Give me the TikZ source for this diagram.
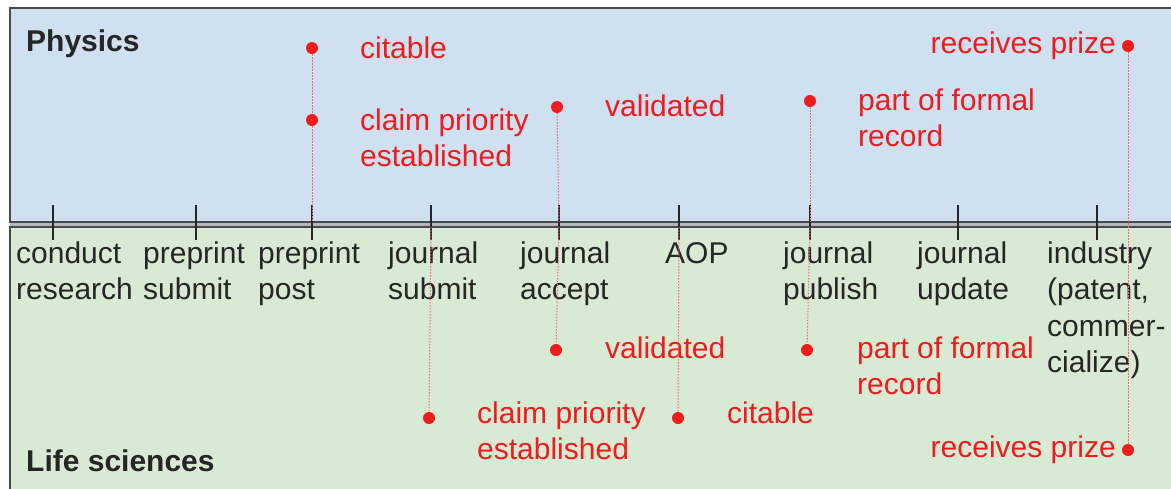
\documentclass[tikz,border=0pt]{standalone}
\usepackage{fontspec}
\setmainfont{Liberation Sans}
\definecolor{physbg}{HTML}{CFE0F1}
\definecolor{lifebg}{HTML}{D9EAD4}
\definecolor{accent}{HTML}{EE1C1C}
\definecolor{ink}{HTML}{262626}
\definecolor{edgegray}{HTML}{4A4A4A}
\definecolor{gapgray}{HTML}{B4B8BC}

\begin{document}
\begin{tikzpicture}[x=1pt,y=-1pt,
  % multi-line nodes sit on the baseline of their last line
  stage/.style={anchor=base west, inner sep=0pt, align=left, text=ink,
                font=\fontsize{30}{36.5}\selectfont},
  note/.style={stage, text=accent},
  notel/.style={note, anchor=base east, align=right},
  lanetitle/.style={stage, font=\fontsize{30}{36.5}\selectfont\bfseries},
  dot/.style={circle, fill=accent, inner sep=0pt, minimum size=12pt},
  tickmark/.style={draw=ink, line width=1.5pt},
  trace/.style={draw=accent!65, line width=1pt, dash pattern=on 1.5pt off 1.5pt},
  lane/.style={draw=edgegray, line width=1.6pt}]
\useasboundingbox (0,0) rectangle (1171,488);
\clip (0,0) rectangle (1171,488);
\fill[white] (0,0) rectangle (1171,488);

% the two lanes
\fill[gapgray] (10,222) rectangle (1190,227);
\path[lane, fill=physbg] (10,8) rectangle (1190,222);
\path[lane, fill=lifebg] (10,227) rectangle (1190,500);

\node[lanetitle] (phys) at (26,51) {Physics};
\node[lanetitle] (life) at (26,471) {Life sciences};

% timeline ticks
\foreach \n/\x in {t1/53, t2/196, t3/312, t4/431, t5/559, t6/679, t7/810, t8/958, t9/1097} {
  \coordinate (\n-top) at (\x,205);
  \coordinate (\n-bot) at (\x,240);
  \coordinate (\n-up) at (\x,222);
  \coordinate (\n-dn) at (\x,227);
  \draw[tickmark] (\n-top) -- (\n-bot);
}

% stage labels
\node[stage] (s1) at (16,299.5) {conduct\\research};
\node[stage] (s2) at (143,299.5) {preprint\\submit};
\node[stage] (s3) at (258,299.5) {preprint\\post};
\node[stage] (s4) at (388,299.5) {journal\\submit};
\node[stage] (s5) at (520,299.5) {journal\\accept};
\node[stage] (s6) at (665,263) {AOP};
\node[stage] (s7) at (783,299.5) {journal\\publish};
\node[stage] (s8) at (917,299.5) {journal\\update};
\node[stage] (s9) at (1047,372.5) {industry\\(patent,\\commer-\\cialize)};

% physics milestones
\node[dot] (pcite) at (312,48) {};
\node[dot] (pclaim) at (312,120) {};
\node[dot] (pvalid) at (557,107) {};
\node[dot] (precord) at (810,101) {};
\node[dot] (pprize) at (1128,46) {};
\node[note] (pcite-t) at (360,58) {citable};
\node[note] (pclaim-t) at (360,166.5) {claim priority\\established};
\node[note] (pvalid-t) at (605,116) {validated};
\node[note] (precord-t) at (858,146.5) {part of formal\\record};
\node[notel] (pprize-t) at (1116,53) {receives prize};

% life-science milestones
\node[dot] (lclaim) at (429,418) {};
\node[dot] (lvalid) at (556,350) {};
\node[dot] (lcite) at (678,418) {};
\node[dot] (lrecord) at (807,350) {};
\node[dot] (lprize) at (1128,450) {};
\node[note] (lclaim-t) at (477,459.5) {claim priority\\established};
\node[note] (lvalid-t) at (605,358) {validated};
\node[note] (lcite-t) at (727,423) {citable};
\node[note] (lrecord-t) at (857,394.5) {part of formal\\record};
\node[notel] (lprize-t) at (1116,457) {receives prize};

% dotted guides down to the timeline
\draw[trace] (pcite) -- (pclaim);
\draw[trace] (pclaim) -- (t3-up);
\draw[trace] (pvalid) -- (t5-up);
\draw[trace] (precord) -- (t7-up);
\draw[trace] (pprize) -- (lprize);
\draw[trace] (t4-dn) -- (lclaim);
\draw[trace] (t5-dn) -- (lvalid);
\draw[trace] (t6-dn) -- (lcite);
\draw[trace] (t7-dn) -- (lrecord);
\end{tikzpicture}
\end{document}
